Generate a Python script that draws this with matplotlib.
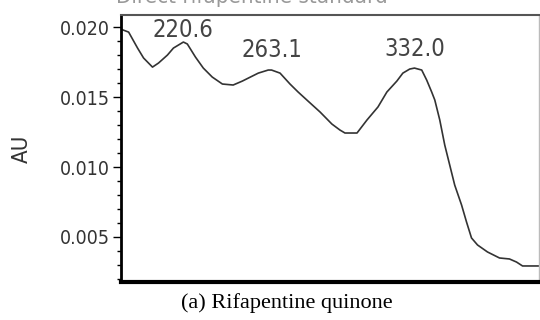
import numpy as np
import matplotlib
matplotlib.use('Agg')
import matplotlib.pyplot as plt
from matplotlib.ticker import MultipleLocator

# UV spectrum (wavelength nm, absorbance AU)
wavelength = [190.3, 194.2, 198.5, 201.4, 205.7, 208.6, 212.9, 215.8, 220.6, 222.5,
              226.4, 230.2, 234.5, 239.4, 244.6, 249.0, 256.7, 261.5, 263.1, 267.2,
              272.0, 275.9, 280.7, 286.5, 292.2, 296.1, 298.5, 304.3, 309.1, 314.4,
              318.7, 323.5, 326.4, 329.7, 332.0, 335.5, 337.9, 340.3, 341.8, 344.2,
              346.6, 349.0, 351.4, 354.7, 357.1, 359.5, 362.4, 367.2, 373.0, 377.8,
              381.2, 384.1, 392.2]
absorbance = [0.01986, 0.01964, 0.01850, 0.01779, 0.01714, 0.01743, 0.01800, 0.01850, 0.01893, 0.01879,
              0.01786, 0.01707, 0.01643, 0.01593, 0.01586, 0.01614, 0.01671, 0.01693, 0.01693, 0.01671,
              0.01593, 0.01536, 0.01471, 0.01393, 0.01307, 0.01264, 0.01243, 0.01243, 0.01336, 0.01429,
              0.01536, 0.01614, 0.01671, 0.01700, 0.01707, 0.01693, 0.01621, 0.01536, 0.01479, 0.01336,
              0.01157, 0.01014, 0.00871, 0.00729, 0.00607, 0.00493, 0.00443, 0.00393, 0.00350, 0.00343,
              0.00321, 0.00293, 0.00293]

peak_labels = ['220.6', '263.1', '332.0']
peak_wl = [220.6, 263.1, 332.0]
peak_abs = [0.01893, 0.01693, 0.01707]
label_offsets = [0, 6, 5]   # points above the peak

narrow = dict(family='DejaVu Sans', stretch='condensed')

fig = plt.figure(figsize=(5.4, 3.2), dpi=100)
ax = fig.add_axes([0.224, 0.119, 0.774, 0.834])

ax.plot(wavelength, absorbance, color='#333333', lw=1.2)

for lab, x, y, off in zip(peak_labels, peak_wl, peak_abs, label_offsets):
    ax.annotate(lab, xy=(x, y), xytext=(0, off), textcoords='offset points',
                ha='center', va='bottom', fontsize=17, color='#444444',
                **narrow)

ax.set_xlim(190.5, 392)
ax.set_ylim(0.00179, 0.02086)
ax.yaxis.set_minor_locator(MultipleLocator(0.001))
ax.set_yticks([0.005, 0.010, 0.015, 0.020])
ax.set_yticklabels(['0.005', '0.010', '0.015', '0.020'], fontsize=14,
                   color='#333333', **narrow)
ax.set_xticks([])
ax.tick_params(axis='y', which='major', length=6, width=1, direction='out', pad=2)
ax.tick_params(axis='y', which='minor', length=3, width=1, direction='out')

ax.set_ylabel('AU', fontsize=16, color='#333333', labelpad=20, **narrow)

ax.spines['left'].set_linewidth(2)
ax.spines['bottom'].set_linewidth(3)
ax.spines['top'].set_linewidth(1.5)
ax.spines['top'].set_color('#555555')
ax.spines['right'].set_linewidth(1)
ax.spines['right'].set_color('#bbbbbb')

# title of the original screenshot, mostly cut off at the top
fig.text(0.467, 1 - 3 / 320, 'Direct rifapentine standard', ha='center',
         va='baseline', fontsize=16, color='#999999', **narrow)

fig.text(0.531, 0.053, '(a) Rifapentine quinone', ha='center', va='center',
         fontsize=16, family=['Liberation Serif', 'DejaVu Serif'])

fig.savefig('out.png', dpi=100)
